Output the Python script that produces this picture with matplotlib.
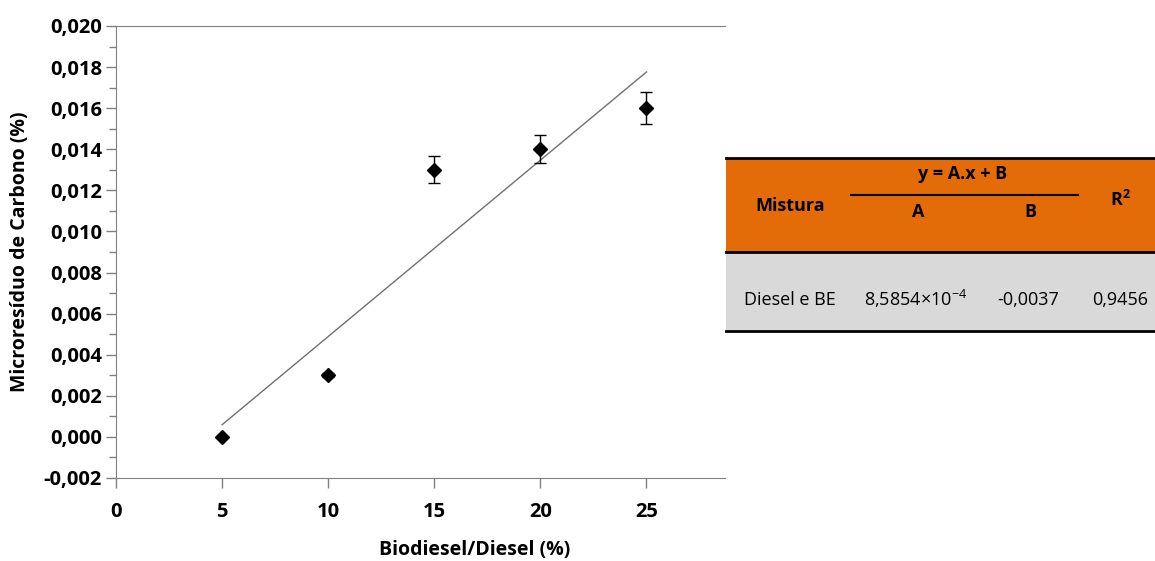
import numpy as np
import matplotlib.pyplot as plt
from matplotlib.patches import Rectangle
from matplotlib.lines import Line2D

plt.rcParams['font.family'] = ['Open Sans', 'DejaVu Sans']
plt.rcParams['mathtext.default'] = 'regular'

# data
blend = [5, 10, 15, 20, 25]
residue = [0.0, 0.003, 0.013, 0.014, 0.016]
residue_err = [0.0, 0.0001, 0.00065, 0.00068, 0.00078]

# linear fit y = A.x + B (from the table)
coef_A = 8.5854e-4
coef_B = -0.0037
r2 = 0.9456
fit_x = np.array([5, 25])

table_head = ['Mistura', 'y = A.x + B', 'A', 'B', 'R$^2$']
table_row = ['Diesel e BE', '8,5854×10$^{-4}$', '-0,0037', '0,9456']

yticks = np.arange(-0.002, 0.0201, 0.002)
xticks = [0, 5, 10, 15, 20, 25]

fig = plt.figure(figsize=(11.55, 5.61), dpi=100)
ax = fig.add_axes([116/1155, 1-478/561, (725-116)/1155, (478-26)/561])

ax.plot(fit_x, coef_A*fit_x + coef_B, color='#707070', lw=1)
ax.errorbar(blend, residue, yerr=residue_err, fmt='D', color='black', ms=7,
            ecolor='black', elinewidth=1, capsize=4, capthick=1)

ax.set_xlim(0, 28.7)
ax.set_ylim(-0.002, 0.020)
ax.set_xticks(xticks)
ax.set_yticks(yticks)
ax.set_yticks(np.arange(-0.002, 0.0201, 0.001), minor=True)
ax.set_yticklabels([f'{v:.3f}'.replace('.', ',') for v in yticks])
for lab in ax.get_xticklabels() + ax.get_yticklabels():
    lab.set_fontweight('bold')
    lab.set_fontsize(14.5)
ax.tick_params(axis='both', which='both', direction='out', color='#808080', width=1)
ax.tick_params(axis='both', which='major', length=7)
ax.tick_params(axis='y', which='major', pad=3)
ax.tick_params(axis='x', which='major', pad=10)
ax.tick_params(axis='y', which='minor', length=5)
ax.spines['right'].set_visible(False)
for s in ['left', 'bottom', 'top']:
    ax.spines[s].set_color('#808080')

fig.text(20/1155, 1-252/561, 'Microresíduo de Carbono (%)', rotation=90,
         ha='center', va='center', fontsize=14, fontweight='bold')
fig.text(475/1155, 1-550/561, 'Biodiesel/Diesel (%)', ha='center', va='center',
         fontsize=14, fontweight='bold')

# side table
W, H = 1155, 561
def fx(x): return x/W
def fy(y): return 1-y/H

fig.patches.append(Rectangle((fx(726), fy(252)), fx(1155)-fx(726), fy(158)-fy(252),
                             transform=fig.transFigure, facecolor='#E36C09', edgecolor='none'))
fig.patches.append(Rectangle((fx(726), fy(330)), fx(1155)-fx(726), fy(252)-fy(330),
                             transform=fig.transFigure, facecolor='#D9D9D9', edgecolor='none'))
for yy, lw in [(158, 2), (252, 2), (331, 2)]:
    fig.lines.append(Line2D([fx(726), fx(1155)], [fy(yy), fy(yy)], color='black', lw=lw,
                            transform=fig.transFigure))
fig.lines.append(Line2D([fx(851), fx(1078)], [fy(195), fy(195)], color='black', lw=1.5,
                        transform=fig.transFigure))

hk = dict(ha='center', va='center', fontsize=13, fontweight='bold', color='black')
fig.text(fx(790), fy(206), table_head[0], **hk)
fig.text(fx(963), fy(174), table_head[1], **hk)
fig.text(fx(918), fy(212), table_head[2], **hk)
fig.text(fx(1030), fy(212), table_head[3], **hk)
fig.text(fx(1120), fy(200), table_head[4], **hk)

rk = dict(ha='center', va='center', fontsize=13, color='black')
fig.text(fx(790), fy(300), table_row[0], **rk)
fig.text(fx(916), fy(299), table_row[1], **rk)
fig.text(fx(1028), fy(300), table_row[2], **rk)
fig.text(fx(1120), fy(300), table_row[3], **rk)

fig.savefig('out.png', dpi=100)
